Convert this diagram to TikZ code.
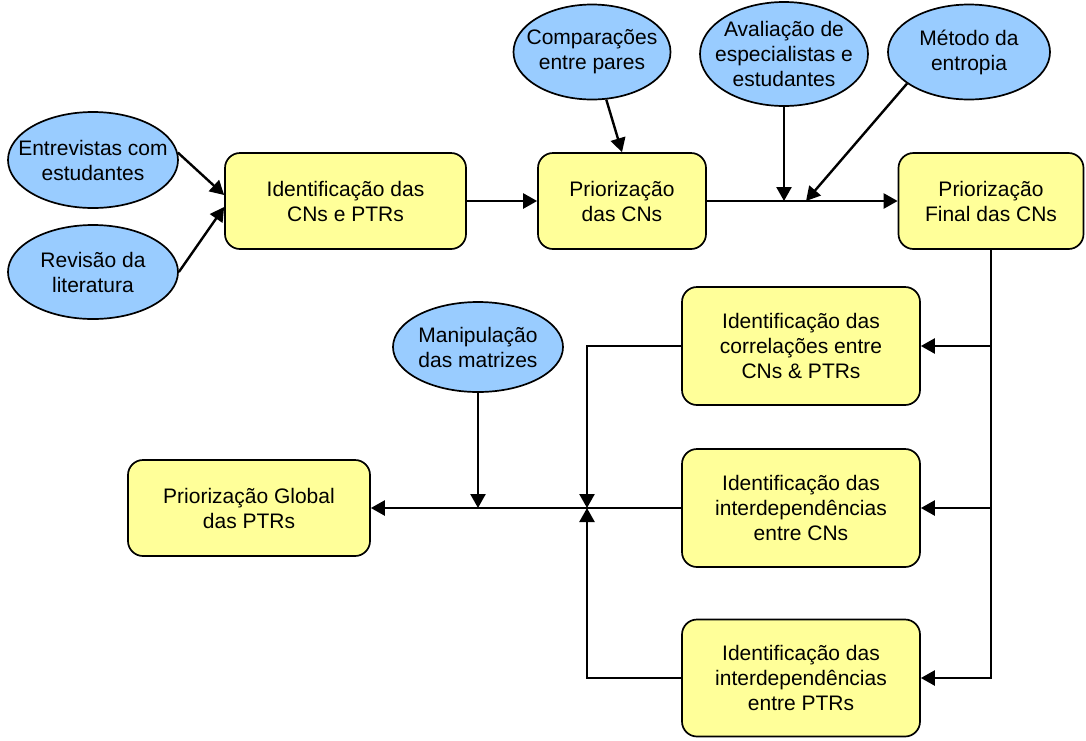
\documentclass[tikz,border=0pt]{standalone}
\usepackage{fontspec}
\setmainfont{Liberation Sans}
\usetikzlibrary{shapes.geometric,arrows.meta}
\definecolor{boxfill}{HTML}{FFFF99}
\definecolor{bubfill}{HTML}{99CCFF}
\begin{document}
\begin{tikzpicture}[x=1pt,y=-1pt,
  font=\fontsize{21}{25}\selectfont,
  stepbox/.style={draw, line width=1.7pt, fill=boxfill, rounded corners=15pt,
                  align=center, inner sep=0pt},
  bub/.style={draw, ellipse, line width=1.7pt, fill=bubfill, inner sep=0pt},
  txt/.style={align=center, inner sep=0pt},
  ln/.style={line width=2.4pt},
  arr/.style={ln, -{Triangle[length=14pt,width=15pt]}}]
\useasboundingbox (0,0) rectangle (1086,740);

% input ellipses
\node[bub, minimum width=170pt, minimum height=96pt,
      label={[txt]center:{Entrevistas com\\estudantes}}] (ent) at (93,160) {};
\node[bub, minimum width=170pt, minimum height=94pt,
      label={[txt]center:{Revisão da\\literatura}}] (rev) at (93,272) {};
\node[bub, minimum width=157pt, minimum height=95pt,
      label={[txt]center:{Comparações\\entre pares}}] (cmp) at (592,52) {};
\node[bub, minimum width=168pt, minimum height=104pt,
      label={[txt]center:{Avaliação de\\especialistas e\\estudantes}}] (ava) at (784,54) {};
\node[bub, minimum width=162pt, minimum height=95pt,
      label={[txt]center:{Método da\\entropia}}] (met) at (969,52) {};
\node[bub, minimum width=170pt, minimum height=90pt,
      label={[txt]center:{Manipulação\\das matrizes}}] (man) at (478,347) {};

% process steps
\node[stepbox, minimum width=241pt, minimum height=96pt] (idn) at (345.5,201)
  {Identificação das\\CNs e PTRs};
\node[stepbox, minimum width=168pt, minimum height=96pt] (pri) at (622,201)
  {Priorização\\das CNs};
\node[stepbox, minimum width=185pt, minimum height=96pt] (fin) at (991,201)
  {Priorização\\Final das CNs};
\node[stepbox, minimum width=238pt, minimum height=118pt] (corr) at (801,346)
  {Identificação das\\correlações entre\\CNs \& PTRs};
\node[stepbox, minimum width=238pt, minimum height=118pt] (cns) at (801,508)
  {Identificação das\\interdependências\\entre CNs};
\node[stepbox, minimum width=238pt, minimum height=117pt] (ptr) at (801,678)
  {Identificação das\\interdependências\\entre PTRs};
\node[stepbox, minimum width=242pt, minimum height=96pt] (glob) at (249,508)
  {Priorização Global\\das PTRs};

% junction points on the flow lines
\coordinate (ja) at (784,201);
\coordinate (jm) at (806,201);
\coordinate (jl) at (587,508);

% top row
\draw[arr] (ent.5) -- ([yshift=6pt]idn.west);
\draw[arr] (rev.east) -- ([yshift=-6pt]idn.west);
\draw[arr] (idn.east) -- (pri.west);
\draw[arr] (cmp) -- (pri.north);
\draw[arr] (pri.east) -- (fin.west);
\draw[arr] (ava.south) -- (ja);
\draw[arr] (met.207) -- (jm);

% distribution from the final prioritisation
\draw[arr] (fin.south) |- (ptr.east);
\draw[arr] (fin.south |- corr.east) -- (corr.east);
\draw[arr] (fin.south |- cns.east) -- (cns.east);

% collection towards the global prioritisation
\draw[arr] (corr.west) -| (jl);
\draw[arr] (ptr.west) -| (jl);
\draw[arr] (cns.west) -- (glob.east);
\draw[arr] (man.south) -- (man.south |- glob.east);
\end{tikzpicture}
\end{document}
